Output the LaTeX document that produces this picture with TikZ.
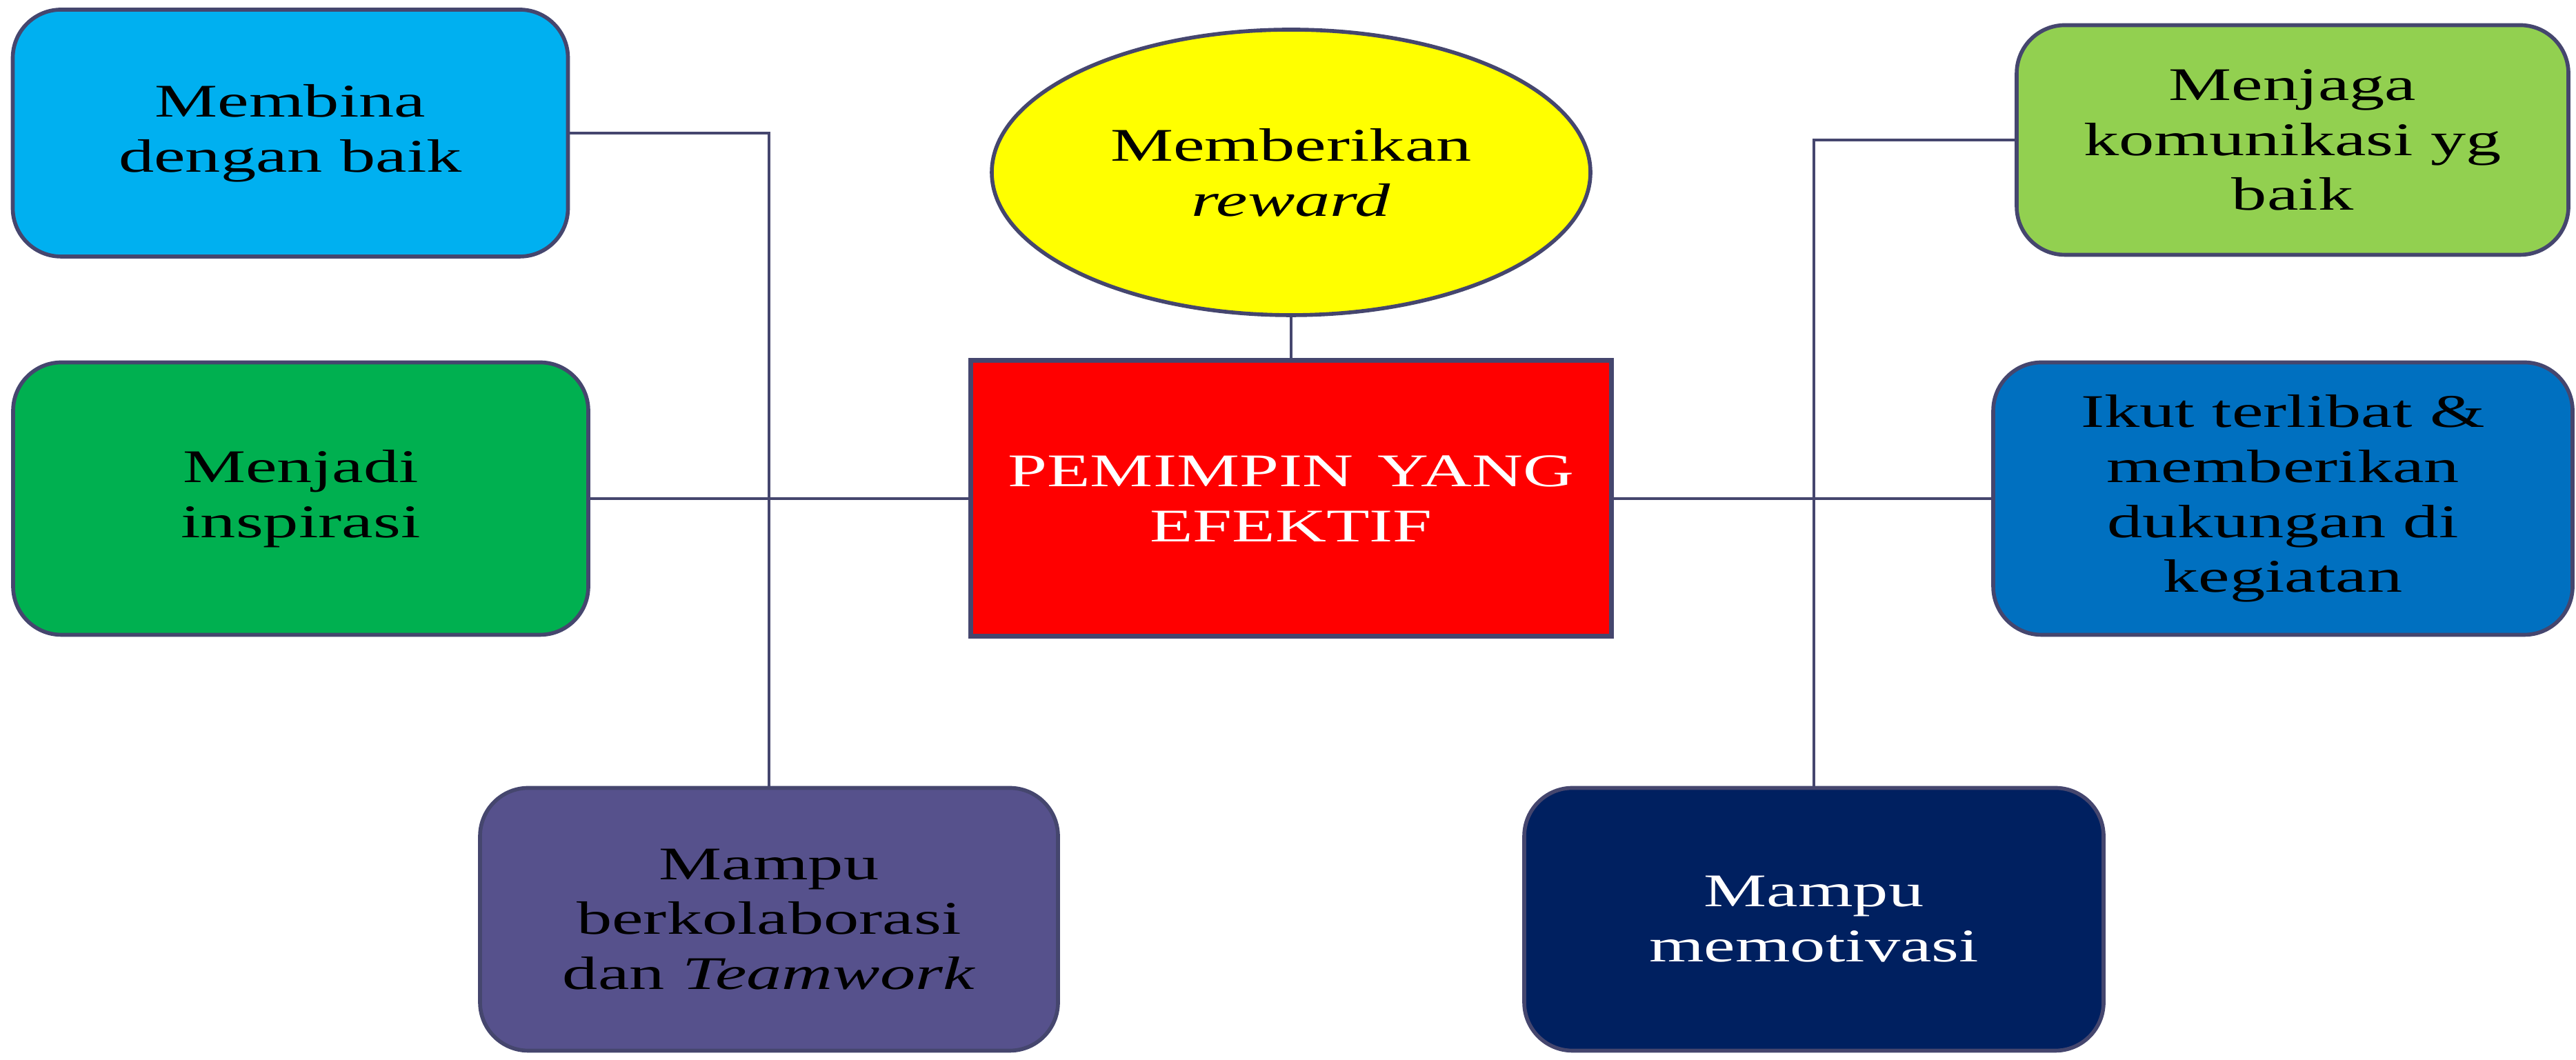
\documentclass[tikz,border=0pt]{standalone}
\usepackage{fontspec}
\setmainfont[FakeStretch=1.51]{Liberation Serif}
\usepackage{tikz}
\usetikzlibrary{positioning,shapes}
\definecolor{garis}{HTML}{45466E}
\definecolor{biru}{HTML}{00B0F0}
\definecolor{hijau}{HTML}{00B050}
\definecolor{ungu}{HTML}{56518C}
\definecolor{kuning}{HTML}{FFFF00}
\definecolor{merah}{HTML}{FF0000}
\definecolor{hijaumuda}{HTML}{92D050}
\definecolor{birutua}{HTML}{0070C0}
\definecolor{navy}{HTML}{002060}
\newcommand{\teks}{\fontsize{19.3}{22.7}\selectfont}
\tikzset{
  kotak/.style={draw=garis, line width=1.6pt, rounded corners=0.7cm, align=center, inner sep=0pt, font=\teks},
  hubung/.style={draw=garis, line width=0.9pt}
}

\begin{document}
\begin{tikzpicture}
\useasboundingbox (0,0) rectangle (37.35,15.37);
% kiri
\node[kotak, fill=biru, minimum width=8.05cm, minimum height=3.58cm] (membina) at (4.21,13.44) {Membina\\dengan baik};
\node[kotak, fill=hijau, minimum width=8.34cm, minimum height=3.95cm] (inspirasi) at (4.36,8.14) {Menjadi\\inspirasi};
\node[kotak, fill=ungu, minimum width=8.38cm, minimum height=3.81cm] (kolaborasi) at (11.15,2.04) {Mampu\\berkolaborasi\\dan \textit{Teamwork}};
% tengah
\node[draw=garis, line width=2pt, fill=merah, text=white, align=center, inner sep=0pt, font=\teks, minimum width=9.29cm, minimum height=4.0cm] (pemimpin) at (18.72,8.14) {PEMIMPIN \hspace{0.15em}YANG\\EFEKTIF};
\node[ellipse, draw=garis, line width=1.6pt, fill=kuning, align=center, inner sep=0pt, font=\teks, minimum width=8.68cm, minimum height=4.14cm] (reward) at (18.72,12.87) {Memberikan\\\textit{reward}};
% kanan
\node[kotak, fill=hijaumuda, minimum width=8.0cm, minimum height=3.33cm] (menjaga) at (33.24,13.34) {Menjaga\\komunikasi yg\\baik};
\node[kotak, fill=birutua, minimum width=8.4cm, minimum height=3.95cm] (terlibat) at (33.10,8.14) {Ikut terlibat \&\\memberikan\\dukungan di\\kegiatan};
\node[kotak, fill=navy, text=white, minimum width=8.4cm, minimum height=3.81cm] (motivasi) at (26.30,2.04) {Mampu\\memotivasi};
% garis penghubung
\draw[hubung] (membina.east) -| (kolaborasi.north);
\draw[hubung] (inspirasi.east) -- (pemimpin.west);
\draw[hubung] (reward.south) -- (pemimpin.north);
\draw[hubung] (pemimpin.east) -- (terlibat.west);
\draw[hubung] (menjaga.west) -| (motivasi.north);
\end{tikzpicture}
\end{document}
